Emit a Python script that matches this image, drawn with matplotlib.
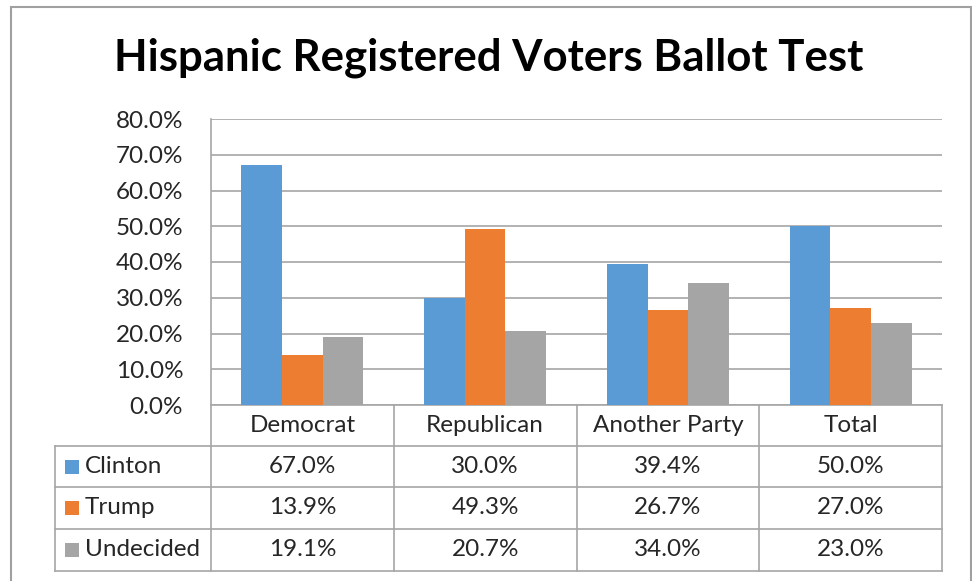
import numpy as np
import matplotlib
matplotlib.use("Agg")
import matplotlib.pyplot as plt
from matplotlib.patches import Rectangle
from matplotlib.lines import Line2D
from matplotlib.ticker import PercentFormatter

# Data
categories = ["Democrat", "Republican", "Another Party", "Total"]
series = ["Clinton", "Trump", "Undecided"]
clinton = [67.0, 30.0, 39.4, 50.0]
trump = [13.9, 49.3, 26.7, 27.0]
undecided = [19.1, 20.7, 34.0, 23.0]
values = [clinton, trump, undecided]
colors = ["#5B9BD5", "#ED7D31", "#A5A5A5"]

plt.rcParams["font.family"] = ["Lato", "DejaVu Sans"]
text_color = "#262626"
line_color = "#A6A6A6"
fs = 17.5

W, H = 972, 581
fig = plt.figure(figsize=(W / 100, H / 100), dpi=100)


def fx(x):
    return x / W


def fy(y):
    return 1 - y / H


# plot area in pixel terms
left, right, top, bottom = 211, 942, 119, 405
ax = fig.add_axes([fx(left), fy(bottom), fx(right - left), (bottom - top) / H])

x = np.arange(len(categories))
bw = 1 / 4.5
for i, (name, vals) in enumerate(zip(series, values)):
    ax.bar(x + (i - 1) * bw, vals, width=bw, color=colors[i], zorder=3)

ax.set_xlim(-0.5, len(categories) - 0.5)
ax.set_ylim(0, 80)
ax.set_yticks(np.arange(0, 81, 10))
ax.yaxis.set_major_formatter(PercentFormatter(decimals=1))
ax.tick_params(axis="y", length=0, pad=20, labelsize=fs, labelcolor=text_color)
ax.set_xticks([])
ax.grid(axis="y", color=line_color, linewidth=1.2, zorder=0)
for s in ["top", "right"]:
    ax.spines[s].set_visible(False)
for s in ["left", "bottom"]:
    ax.spines[s].set_color(line_color)
    ax.spines[s].set_linewidth(1.2)

# Title
fig.text(0.5 * (fx(119) + fx(859)), fy(58), "Hispanic Registered Voters Ballot Test",
         ha="center", va="center", fontsize=31.5, fontweight="bold", color="black")

# Data table below the axis
row_y = [405, 446, 487, 529, 571]
tab_left = 55
lw = 1.2
# column boundaries from the axis scale
bounds = np.arange(len(categories) + 1) - 0.5
fig.canvas.draw()
bx = [ax.transData.transform((b, 0))[0] / fig.dpi / fig.get_figwidth() for b in bounds]

for b in bx:
    fig.add_artist(Line2D([b, b], [fy(row_y[0]), fy(row_y[-1])], color=line_color, lw=lw))
fig.add_artist(Line2D([fx(tab_left), fx(tab_left)], [fy(row_y[1]), fy(row_y[-1])],
                      color=line_color, lw=lw))
for ry in row_y[1:]:
    fig.add_artist(Line2D([fx(tab_left), bx[-1]], [fy(ry), fy(ry)], color=line_color, lw=lw))

# header row
for i, cat in enumerate(categories):
    cx = 0.5 * (bx[i] + bx[i + 1])
    fig.text(cx, fy(0.5 * (row_y[0] + row_y[1])), cat, ha="center", va="center",
             fontsize=fs, color=text_color)

# series rows
for r, (name, vals) in enumerate(zip(series, values)):
    cy = fy(0.5 * (row_y[r + 1] + row_y[r + 2]))
    fig.add_artist(Rectangle((fx(65), cy - 7 / H), 14 / W, 14 / H,
                             facecolor=colors[r], edgecolor="none"))
    fig.text(fx(85), cy, name, ha="left", va="center", fontsize=fs, color=text_color)
    for i, v in enumerate(vals):
        cx = 0.5 * (bx[i] + bx[i + 1])
        fig.text(cx, cy, f"{v:.1f}%", ha="center", va="center", fontsize=fs, color=text_color)

# outer chart border
fig.add_artist(Rectangle((fx(10.5), fy(590)), fx(960), (590 - 7) / H, fill=False,
                         edgecolor="#A0A0A0", lw=1.5))

fig.savefig("out.png", dpi=100)
